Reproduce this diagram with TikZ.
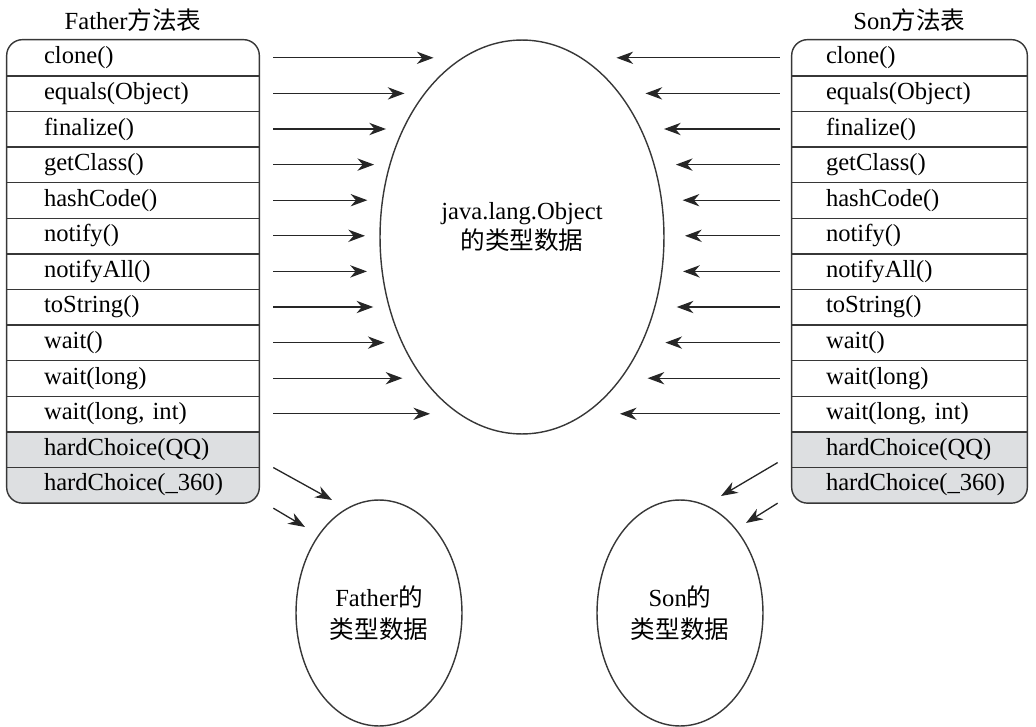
\documentclass[tikz,border=0pt]{standalone}
\usepackage{fontspec}
\setmainfont{Liberation Serif}
\newfontfamily\cjk{Noto Sans CJK SC}
\usepackage{xcolor}
\usetikzlibrary{shapes.geometric,arrows.meta,positioning,calc,backgrounds}
\definecolor{rowgray}{RGB}{221,223,225}
\definecolor{linegray}{RGB}{55,55,55}
\hfuzz=40pt
\tikzstyle{arrow} = [-{Stealth[length=9.5pt,width=7pt,inset=3pt]},line width=0.75pt,draw=black!85]
\tikzstyle{rowline} = [draw=linegray,line width=0.8pt]
\tikzstyle{frow} = [rectangle,minimum width=5.04cm,minimum height=0.712cm,text width=3.56cm,align=left,inner sep=0pt,font=\fontsize{14}{16}\selectfont]
\tikzstyle{srow} = [frow,minimum width=4.7cm,text width=3.34cm]
\tikzstyle{typedata} = [ellipse,draw=linegray,line width=0.8pt,align=center,inner sep=0pt,font=\fontsize{14}{18}\selectfont]

\begin{document}
\begin{tikzpicture}[x=0.02cm, y=-0.02cm]
\useasboundingbox (0,0) rectangle (1036,727);

% Method tables
\foreach \m [count=\i] in {clone(), equals(Object), finalize(), getClass(), hashCode(), notify(), notifyAll(), toString(), wait(), wait(long), {wait(long, int)}, hardChoice(QQ), hardChoice(\_360)} {
  \node[frow] (fm\i) at (133, {40+35.6*(\i-0.5)}) {\m};
  \node[srow] (sm\i) at (909.5, {40+35.6*(\i-0.5)}) {\m};
}

% Grey rows of the own methods
\begin{scope}[on background layer]
\begin{scope}
\clip[rounded corners=9pt] (fm1.north west) rectangle (fm13.south east);
\fill[rowgray] (fm12.north west) rectangle (fm13.south east);
\end{scope}
\begin{scope}
\clip[rounded corners=9pt] (sm1.north west) rectangle (sm13.south east);
\fill[rowgray] (sm12.north west) rectangle (sm13.south east);
\end{scope}
\end{scope}

% Row lines and frames
\foreach \i in {1,...,12} {
  \draw[rowline] (fm\i.south west) -- (fm\i.south east);
  \draw[rowline] (sm\i.south west) -- (sm\i.south east);
}
\draw[rowline, rounded corners=9pt] (fm1.north west) rectangle (fm13.south east);
\draw[rowline, rounded corners=9pt] (sm1.north west) rectangle (sm13.south east);

% Table titles
\node[font=\fontsize{14}{16}\selectfont] (ftitle) at (133,20) {Father{\cjk 方法表}};
\node[font=\fontsize{14}{16}\selectfont] (stitle) at (909.5,20) {Son{\cjk 方法表}};

% Type data
\node[typedata, minimum width=5.68cm, minimum height=7.88cm] (objdata) at (522,237) {};
\node[font=\fontsize{14}{17}\selectfont, align=center] (objtext) at ([yshift=0.2cm]objdata.center) {java.lang.Object\\{\cjk 的类型数据}};
\node[typedata, minimum width=3.32cm, minimum height=4.52cm] (fdata) at (379,613) {Father{\cjk 的}\\{\cjk 类型数据}};
\node[typedata, minimum width=3.32cm, minimum height=4.52cm] (sdata) at (680,613) {Son{\cjk 的}\\{\cjk 类型数据}};

% Inherited methods point to Object
\foreach \i in {1,...,11} {
  \pgfmathsetmacro\ty{40+35.6*(\i-0.5)}
  \pgfmathsetmacro\tdx{160*sqrt(1-((\ty-237.5)/219)^2)}
  \coordinate (ftip\i) at (525-\tdx,\ty);
  \coordinate (stip\i) at (525+\tdx,\ty);
  \draw[arrow] ([xshift=0.28cm]fm\i.east) -- (ftip\i);
  \draw[arrow] ([xshift=-0.24cm]sm\i.west) -- (stip\i);
}

% Own methods point to own type data
\coordinate (ftipa) at (332,500);
\coordinate (ftipb) at (305,527);
\coordinate (stipa) at (721,496);
\coordinate (stipb) at (746,523);
\draw[arrow] ([xshift=0.28cm]fm12.south east) -- (ftipa);
\draw[arrow] ([xshift=0.28cm,yshift=-0.1cm]fm13.south east) -- (ftipb);
\draw[arrow] ([xshift=-0.28cm,yshift=0.1cm]sm12.south west) -- (stipa);
\draw[arrow] ([xshift=-0.28cm]sm13.south west) -- (stipb);

\end{tikzpicture}
\end{document}
